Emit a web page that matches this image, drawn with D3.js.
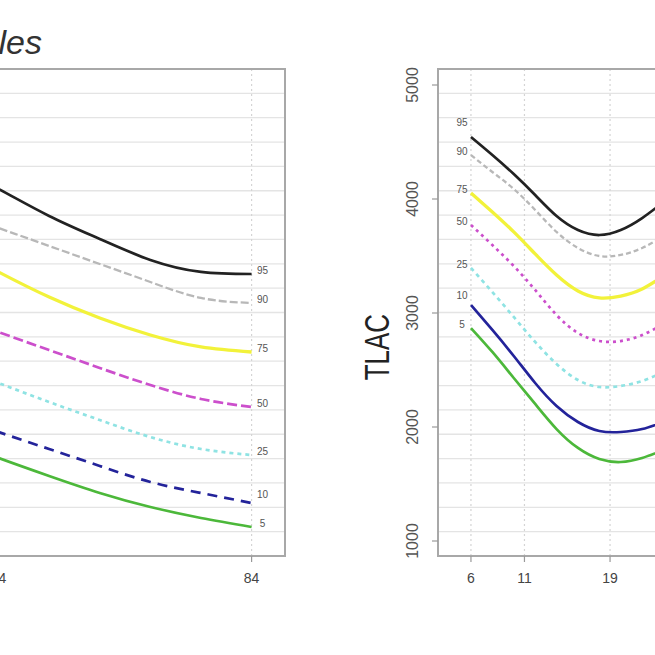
<!DOCTYPE html>
<html>
<head>
<meta charset="utf-8">
<script src="https://cdn.jsdelivr.net/npm/d3@7"></script>
<style>
  html, body { margin: 0; padding: 0; background: #fff; }
  svg { display: block; font-family: "Liberation Sans", Arial, Helvetica, sans-serif; }
</style>
</head>
<body>
<svg id="chart" width="655" height="655"></svg>
<script>
// ---------------- DATA ----------------
const percentileLabels = ["95", "90", "75", "50", "25", "10", "5"];

// Left panel (adults, age up to 84)
const leftAges = [60, 64, 68, 72, 76, 80, 84];
const leftP95 = [4316, 4088, 3851, 3649, 3465, 3360, 3342];
const leftP90 = [3904, 3746, 3588, 3430, 3272, 3132, 3088];
const leftP75 = [3596, 3360, 3140, 2956, 2807, 2702, 2658];
const leftP50 = [3000, 2833, 2675, 2518, 2368, 2246, 2175];
const leftP25 = [2553, 2386, 2219, 2061, 1912, 1807, 1754];
const leftP10 = [2114, 1956, 1807, 1658, 1518, 1421, 1333];
const leftP5  = [1895, 1728, 1570, 1421, 1298, 1202, 1123];
const leftXTicks = [64, 84];
const leftTitle = "Males";

// Right panel (children, from age 6)
const rightAges = [6, 8, 10, 12, 14, 16, 18, 20, 22, 24];
const rightP95 = [4544, 4386, 4219, 4035, 3851, 3728, 3684, 3728, 3833, 3974];
const rightP90 = [4386, 4237, 4088, 3904, 3711, 3570, 3500, 3509, 3570, 3675];
const rightP75 = [4053, 3886, 3711, 3518, 3333, 3193, 3132, 3149, 3211, 3325];
const rightP50 = [3772, 3596, 3412, 3202, 2982, 2825, 2754, 2754, 2807, 2904];
const rightP25 = [3395, 3184, 2965, 2746, 2553, 2412, 2351, 2360, 2404, 2482];
const rightP10 = [3070, 2851, 2623, 2386, 2184, 2044, 1965, 1956, 1982, 2044];
const rightP5  = [2868, 2658, 2430, 2202, 1982, 1816, 1719, 1693, 1728, 1798];
const rightXTicks = [6, 11, 19];
const yTicks = [1000, 2000, 3000, 4000, 5000];
const yLabel = "TLAC";

// ---------------- STYLES ----------------
const colors = ["#222222", "#b8b8b8", "#f2f23a", "#cc4fcc", "#8fe3e3", "#23239a", "#4cb83a"];
const widths = [2.7, 2.3, 3.3, 2.7, 2.7, 2.7, 2.7];
const leftDash  = [null, "8,3", null, "10,4", "4,4", "10,7", null];
const rightDash = [null, "5,3", null, "3,4", "4,4", null, null];

const svg = d3.select("#chart");

const plotTop = 69, plotBottom = 556;
const y = d3.scaleLinear().domain([1000, 5000]).range([541, 85]);

function drawPanel(opts) {
  const { x, ages, series, dash, ticks, left, right, labelSide, clipId } = opts;
  const g = svg.append("g");

  g.append("clipPath").attr("id", clipId)
    .append("rect").attr("x", left).attr("y", plotTop)
    .attr("width", right - left).attr("height", plotBottom - plotTop);

  // horizontal grid: 20 equal divisions of the plot region
  const vTop = y.invert(plotTop), vBot = y.invert(plotBottom);
  const gridVals = d3.range(1, 20).map(k => vTop + k * (vBot - vTop) / 20);
  g.append("g").selectAll("line").data(gridVals).join("line")
    .attr("x1", left).attr("x2", right)
    .attr("y1", d => y(d)).attr("y2", d => y(d))
    .attr("stroke", "#e4e4e4").attr("stroke-width", 1.3);

  // vertical dotted grid at ticks
  g.append("g").selectAll("line").data(ticks).join("line")
    .attr("x1", d => x(d)).attr("x2", d => x(d))
    .attr("y1", plotTop).attr("y2", plotBottom)
    .attr("stroke", "#d4d4d4").attr("stroke-width", 1.2)
    .attr("stroke-dasharray", "2,3");

  // curves
  const line = d3.line().x((d, i) => x(ages[i])).y(d => y(d)).curve(d3.curveNatural);
  const cg = g.append("g").attr("clip-path", `url(#${clipId})`);
  series.forEach((vals, i) => {
    cg.append("path").attr("d", line(vals))
      .attr("fill", "none")
      .attr("stroke", colors[i])
      .attr("stroke-width", widths[i])
      .attr("stroke-dasharray", dash[i])
      .attr("stroke-linecap", "butt");
  });

  // percentile labels with simple de-overlap (bottom up)
  const idx = labelSide === "end" ? ages.length - 1 : 0;
  const ys = series.map(v => y(v[idx]) - 3);
  for (let i = ys.length - 2; i >= 0; i--) {
    if (ys[i] > ys[i + 1] - 29) ys[i] = ys[i + 1] - 29;
  }
  const lx = labelSide === "end" ? x(ages[idx]) + 11 : x(ages[idx]) - 9;
  g.append("g").selectAll("text").data(percentileLabels).join("text")
    .attr("x", lx).attr("y", (d, i) => ys[i])
    .attr("text-anchor", "middle").attr("dominant-baseline", "middle")
    .attr("font-size", 10).attr("fill", "#555")
    .text(d => d);

  // frame
  g.append("rect").attr("x", left).attr("y", plotTop)
    .attr("width", right - left).attr("height", plotBottom - plotTop)
    .attr("fill", "none").attr("stroke", "#a8a8a8").attr("stroke-width", 2);

  // x axis ticks & labels
  const xa = g.append("g");
  xa.selectAll("line").data(ticks).join("line")
    .attr("x1", d => x(d)).attr("x2", d => x(d))
    .attr("y1", plotBottom).attr("y2", plotBottom + 6)
    .attr("stroke", "#999").attr("stroke-width", 1.2);
  xa.selectAll("text").data(ticks).join("text")
    .attr("x", d => x(d)).attr("y", plotBottom + 27)
    .attr("text-anchor", "middle").attr("font-size", 14).attr("fill", "#444")
    .text(d => d);
  return g;
}

// Left panel
const xL = d3.scaleLinear().domain([15.36, 86.64]).range([-617, 285]);
drawPanel({
  x: xL, ages: leftAges,
  series: [leftP95, leftP90, leftP75, leftP50, leftP25, leftP10, leftP5],
  dash: leftDash, ticks: leftXTicks, left: -617, right: 285,
  labelSide: "end", clipId: "clipL"
});

// Right panel
const xR = d3.scaleLinear().domain([2.92, 86.08]).range([438, 1327.8]);
const gR = drawPanel({
  x: xR, ages: rightAges,
  series: [rightP95, rightP90, rightP75, rightP50, rightP25, rightP10, rightP5],
  dash: rightDash, ticks: rightXTicks, left: 438, right: 1327.8,
  labelSide: "start", clipId: "clipR"
});

// Right panel y axis
const ya = gR.append("g");
ya.selectAll("line").data(yTicks).join("line")
  .attr("x1", 438).attr("x2", 432)
  .attr("y1", d => y(d)).attr("y2", d => y(d))
  .attr("stroke", "#999").attr("stroke-width", 1.2);
ya.selectAll("text").data(yTicks).join("text")
  .attr("transform", d => `translate(418,${y(d)}) rotate(-90)`)
  .attr("text-anchor", "middle")
  .attr("font-size", 16).attr("fill", "#555")
  .text(d => d);

svg.append("text")
  .attr("transform", `translate(389,${y(2700)}) rotate(-90)`)
  .attr("text-anchor", "middle")
  .attr("font-size", 35).attr("fill", "#222")
  .attr("textLength", 66).attr("lengthAdjust", "spacingAndGlyphs")
  .text(yLabel);

// Left panel title (clipped at page edge)
svg.append("text")
  .attr("x", 42).attr("y", 54)
  .attr("text-anchor", "end")
  .attr("font-size", 34).attr("font-style", "italic")
  .attr("fill", "#333")
  .text(leftTitle);
</script>
</body>
</html>
